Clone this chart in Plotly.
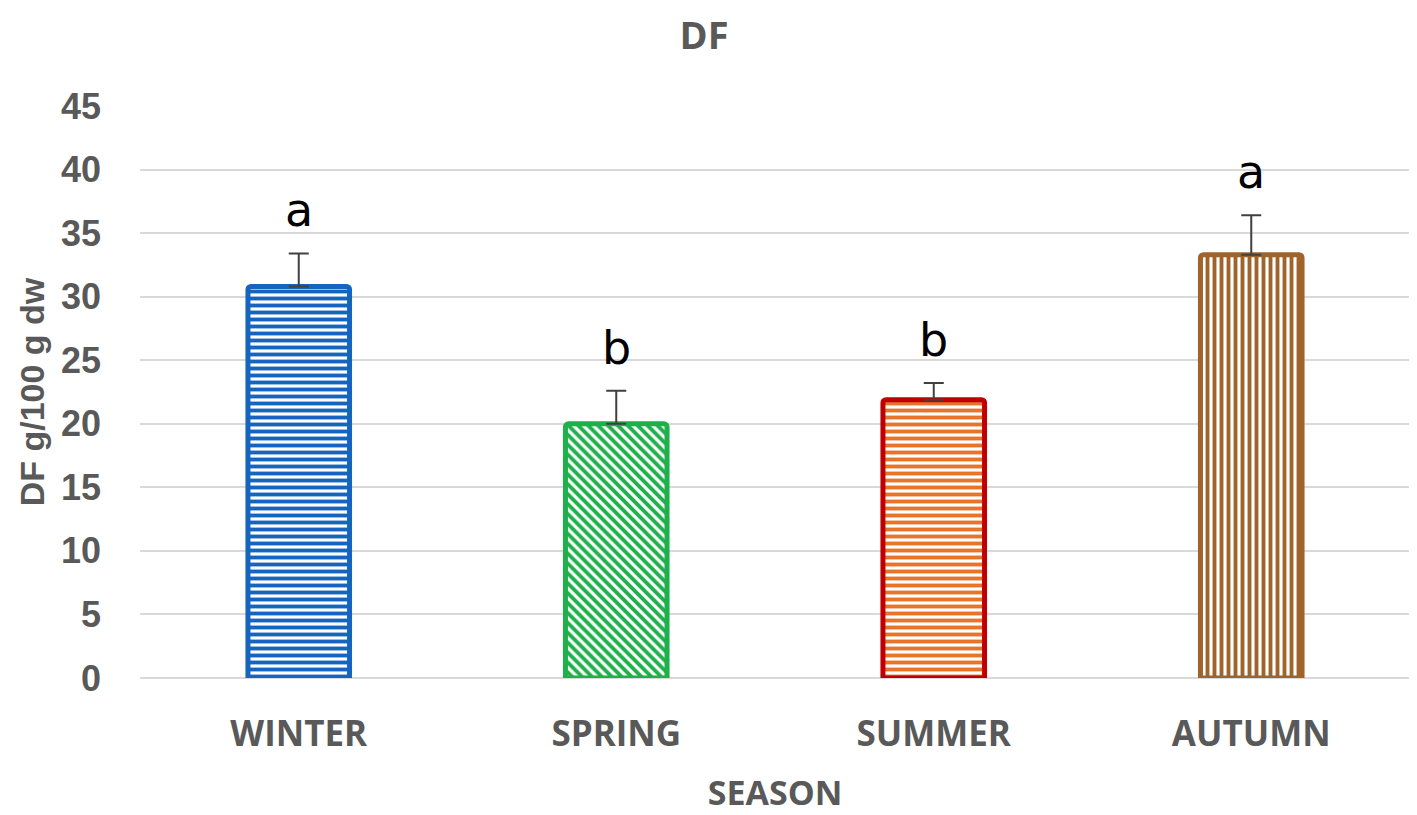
import plotly.graph_objects as go

seasons = ["WINTER", "SPRING", "SUMMER", "AUTUMN"]
df_mean = [30.8, 20.0, 21.9, 33.3]
df_err = [2.6, 2.6, 1.3, 3.1]
letters = ["a", "b", "b", "a"]

line_colors = ["#1565C0", "#1FAF4B", "#C00000", "#A0642A"]
fill_colors = ["#1565C0", "#1FAF4B", "#E8742A", "#A0642A"]
shapes = ["-", "\\", "-", "|"]
text_grey = "#595959"

fig = go.Figure()
fig.add_trace(go.Bar(
    x=seasons,
    y=df_mean,
    width=0.32,
    marker=dict(
        color="white",
        cornerradius=3,
        line=dict(color=line_colors, width=5),
        pattern=dict(shape=shapes, fgcolor=fill_colors, bgcolor="white",
                     fgopacity=1, size=7, solidity=0.55, fillmode="replace"),
    ),
    error_y=dict(type="data", array=df_err, arrayminus=[0] * 4,
                 symmetric=False, color="#404040", thickness=2, width=10),
    showlegend=False,
))

# significance letters above the error bars
for s, m, e, t in zip(seasons, df_mean, df_err, letters):
    fig.add_annotation(x=s, y=m + e, text=t, showarrow=False,
                       yanchor="bottom", yshift=14,
                       font=dict(family="DejaVu Sans", size=46, color="black"))

fig.update_layout(
    width=1409, height=807,
    paper_bgcolor="white", plot_bgcolor="white",
    margin=dict(l=132, r=7, t=98, b=137),
    title=dict(text="<b>DF</b>", x=0.494, xref="container", y=0.966,
               yanchor="middle",
               font=dict(family="Open Sans", size=38, color=text_grey)),
    xaxis=dict(
        title=dict(text="<b>SEASON</b>", standoff=28,
                   font=dict(family="Open Sans", size=34, color=text_grey)),
        tickfont=dict(family="Open Sans", size=35, color=text_grey),
        tickprefix="<b>", ticksuffix="</b>",
        showline=False, showgrid=False, ticklabelstandoff=32,
    ),
    yaxis=dict(
        range=[0, 45], dtick=5,
        title=dict(text="<b>DF g/100 g dw</b>", standoff=6,
                   font=dict(family="Liberation Sans", size=34, color=text_grey)),
        tickfont=dict(family="Liberation Sans", size=36, color=text_grey),
        tickprefix="<b>", ticksuffix="</b>",
        gridcolor="#D9D9D9", gridwidth=2,
        zeroline=True, zerolinecolor="#D9D9D9", zerolinewidth=2,
        ticks="", ticklabelstandoff=38,
    ),
)

fig.write_html("out.html")
